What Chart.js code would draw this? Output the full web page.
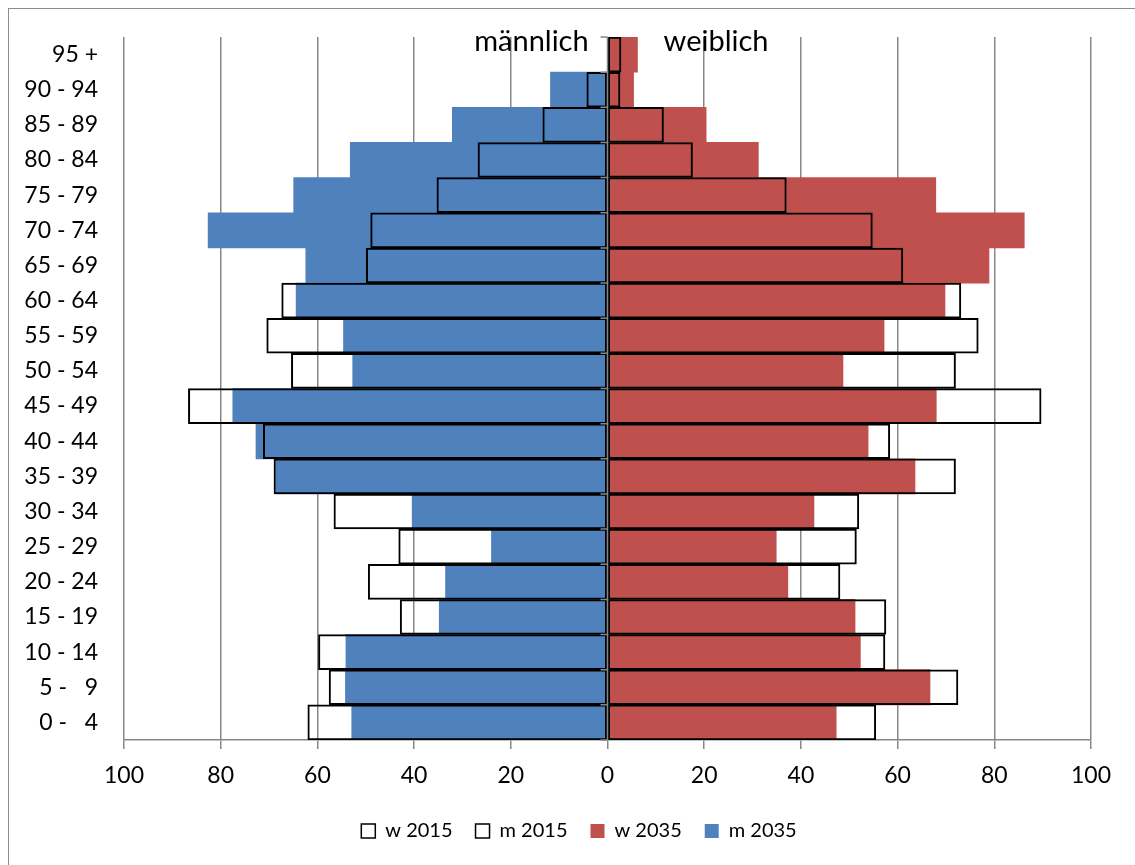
<!DOCTYPE html>
<html>
<head>
<meta charset="utf-8">
<script src="https://cdn.jsdelivr.net/npm/chart.js@4.4.1/dist/chart.umd.min.js"></script>
<style>
  html, body { margin: 0; padding: 0; background: #fff; overflow: hidden; }
  #frame {
    position: absolute; left: 8px; top: 8px; width: 1140px; height: 870px;
    border: 1px solid #8c8c8c;
  }
  #wrap { position: absolute; left: 0; top: 0; width: 1135px; height: 865px; }
</style>
</head>
<body>
<div id="frame"></div>
<div id="wrap"><canvas id="pyramid" width="1135" height="865"></canvas></div>
<script>
// age groups, top row first
const ageGroups = [
  "95 +", "90 - 94", "85 - 89", "80 - 84", "75 - 79", "70 - 74", "65 - 69",
  "60 - 64", "55 - 59", "50 - 54", "45 - 49", "40 - 44", "35 - 39", "30 - 34",
  "25 - 29", "20 - 24", "15 - 19", "10 - 14", "5 -   9", "0 -   4",
];

// men are drawn to the left (negated below)
const men2035 = [0, 11.8, 32.1, 53.2, 64.9, 82.6, 62.4, 64.4, 54.6, 52.7, 77.5, 72.7, 68.6, 40.4, 24.0, 33.5, 34.8, 54.1, 54.2, 52.9];
const men2015 = [0, 4.3, 13.4, 26.8, 35.3, 49.0, 49.9, 67.4, 70.5, 65.4, 86.7, 71.2, 69.0, 56.6, 43.2, 49.5, 42.9, 59.8, 57.6, 62.0];
const women2035 = [6.2, 5.4, 20.4, 31.2, 67.9, 86.2, 78.9, 69.8, 57.2, 48.7, 68.0, 53.9, 63.6, 42.7, 34.9, 37.3, 51.2, 52.3, 66.7, 47.3];
const women2015 = [2.8, 2.6, 11.6, 17.6, 37.0, 54.8, 61.1, 73.1, 76.7, 72.0, 89.7, 58.4, 72.0, 52.0, 51.5, 48.1, 57.6, 57.4, 72.5, 55.5];

const gridColor = "#878787";
const blue = "#4F81BD";
const red = "#C0504D";

const outlineBar = {
  backgroundColor: "rgba(255,255,255,0)",
  borderColor: "#000000",
  borderWidth: 1.5,
  borderSkipped: false,
  inflateAmount: 0.25,
};

// zero axis with its little ticks, plus the two side labels
const pyramidExtras = {
  id: "pyramidExtras",
  afterDatasetsDraw(chart) {
    const { ctx, chartArea, scales } = chart;
    const x0 = scales.x.getPixelForValue(0);
    const step = (chartArea.bottom - chartArea.top) / ageGroups.length;
    ctx.save();
    ctx.strokeStyle = gridColor;
    ctx.lineWidth = 1.5;
    ctx.beginPath();
    ctx.moveTo(x0, chartArea.top);
    ctx.lineTo(x0, chartArea.bottom);
    for (let i = 0; i <= ageGroups.length; i++) {
      const y = chartArea.top + i * step;
      ctx.moveTo(x0 - 7, y);
      ctx.lineTo(x0, y);
    }
    ctx.stroke();

    ctx.fillStyle = "#000";
    ctx.font = "29px Lato";
    ctx.textBaseline = "alphabetic";
    ctx.textAlign = "right";
    ctx.fillText("männlich", scales.x.getPixelForValue(-3.9), chartArea.top + 14);
    ctx.textAlign = "left";
    ctx.fillText("weiblich", scales.x.getPixelForValue(11.6), chartArea.top + 14);
    ctx.restore();
  },
};

const pyramidCanvas = document.getElementById("pyramid");

let pyramidChart = new Chart(pyramidCanvas, {
  type: "bar",
  data: {
    labels: ageGroups,
    datasets: [
      { label: "w 2015", data: women2015, ...outlineBar },
      { label: "m 2015", data: men2015.map((v) => -v), ...outlineBar },
      { label: "w 2035", data: women2035, backgroundColor: red, borderWidth: 0, inflateAmount: 0.33 },
      { label: "m 2035", data: men2035.map((v) => -v), backgroundColor: blue, borderWidth: 0, inflateAmount: 0.33 },
    ],
  },
  options: {
    indexAxis: "y",
    responsive: false,
    animation: false,
    datasets: {
      bar: {
        grouped: false,
        barPercentage: 1,
        categoryPercentage: 1,
      },
    },
    layout: {
      padding: { top: 37, left: 23, right: 0, bottom: 14 },
    },
    scales: {
      x: {
        min: -100,
        max: 100,
        afterFit: (scale) => {
          scale.height = 58;
        },
        ticks: {
          stepSize: 20,
          padding: 13,
          color: "#000",
          font: { family: "Lato", size: 23 },
          maxRotation: 0,
          callback: (value) => Math.abs(value),
        },
        grid: {
          color: gridColor,
          lineWidth: 1.5,
          tickLength: 9,
          drawTicks: true,
        },
        border: { display: true, color: gridColor, width: 1.5 },
      },
      y: {
        afterFit: (scale) => {
          scale.width = 101;
        },
        ticks: {
          padding: 4,
          color: "#000",
          font: { family: "Lato", size: 23 },
        },
        grid: { display: false, drawTicks: true, tickLength: 22 },
        border: { display: false },
      },
      // empty right-hand axis, only there to keep the plot's right edge
      yRight: {
        type: "category",
        position: "right",
        afterFit: (scale) => {
          scale.width = 44;
        },
        ticks: { display: false },
        grid: { display: false, drawTicks: false },
        border: { display: false },
      },
    },
    plugins: {
      legend: {
        position: "bottom",
        labels: {
          boxWidth: 14,
          boxHeight: 14,
          padding: 23,
          color: "#000",
          font: { family: "Lato", size: 20 },
        },
      },
      tooltip: { enabled: false },
    },
  },
  plugins: [pyramidExtras],
});
</script>
</body>
</html>
